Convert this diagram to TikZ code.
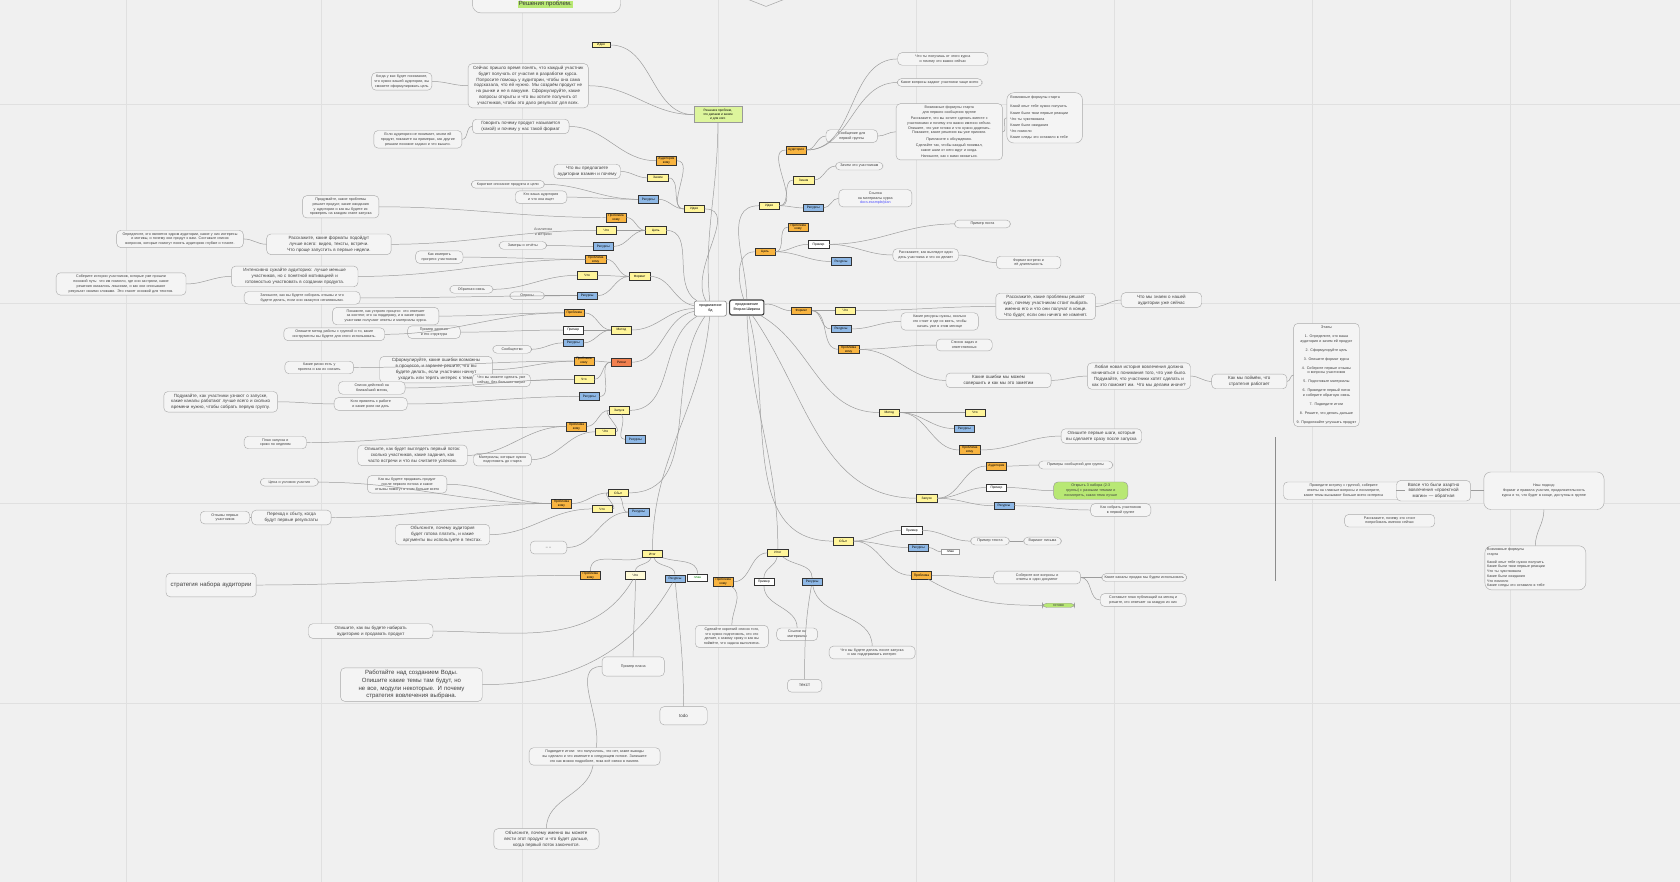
\documentclass[tikz,border=0pt]{standalone}
\usepackage{fontspec}
\setmainfont{Liberation Sans}
\usepackage{tikz}
\usetikzlibrary{positioning}
\definecolor{bgC}{HTML}{F0F0F0}
\definecolor{gridC}{HTML}{E0E0E0}
\definecolor{noteC}{HTML}{F4F4F4}
\definecolor{edgeC}{HTML}{AAAAAA}
\definecolor{linkC}{HTML}{9C9C9C}
\definecolor{tagY}{HTML}{FFF59A}
\definecolor{tagO}{HTML}{F8B440}
\definecolor{tagB}{HTML}{8EB8E6}
\definecolor{tagG}{HTML}{DDF59C}
\definecolor{tagR}{HTML}{F2804F}
\definecolor{hiG}{HTML}{B8E874}
\newdimen\pxu \pxu=0.26786mm
\newcommand\ftiny{\fontsize{2.6}{3.4}\selectfont}
\newcommand\fsmall{\fontsize{3.2}{4.2}\selectfont}
\newcommand\fmid{\fontsize{4.3}{5.5}\selectfont}
\newcommand\fbig{\fontsize{5}{6.6}\selectfont}
\newcommand\ftag{\fontsize{2.3}{2.8}\selectfont}
\tikzset{
  note/.style={draw=edgeC, fill=noteC, rounded corners=3pt, align=center,
               inner sep=1.6pt, text=black!75, font=\ftiny, text width=#1\pxu,
               line width=0.3pt},
  tag/.style={draw=black!80, line width=0.35pt, inner sep=0.6pt,
              minimum width=19\pxu, minimum height=7\pxu, font=\ftag, align=center},
  ytag/.style={tag, fill=tagY},
  otag/.style={tag, fill=tagO},
  btag/.style={tag, fill=tagB},
  wtag/.style={tag, fill=white},
  gtag/.style={tag, fill=tagG, draw=black!40},
  rtag/.style={tag, fill=tagR},
  hub/.style={draw=black!50, fill=white, rounded corners=1.5pt, font=\ftiny,
              align=center, inner sep=1.5pt, minimum height=14\pxu},
  link/.style={draw=linkC, line width=0.35pt},
  gridline/.style={draw=gridC, line width=0.4pt},
}

\begin{document}
\begin{tikzpicture}[x=0.26786mm, y=-0.26786mm]
  \fill[bgC] (0,0) rectangle (1568,823);
  \useasboundingbox (0,0) rectangle (1568,823);
  % grid
  \foreach \gx in {118,300,487,670,855,1040,1225,1410}
    \draw[gridline] (\gx,0) -- (\gx,823);
  \foreach \gy in {97,283,470,656}
    \draw[gridline] (0,\gy) -- (1568,\gy);
  \draw[black!45, line width=0.5pt] (1190,408) -- (1190,542);

  % top
  \node[note=134, minimum height=26\pxu, rounded corners=6pt] (topbox) at (510,-1) {};
  \node[fill=hiG, inner sep=0.6pt, font=\fmid, text=black!80] (topT) at (509,4) {Решения проблем.};
  \draw[edgeC, line width=0.4pt] (692,-3) -- (715,6) -- (738,-3);

  % hubs
  \node[hub, minimum width=30\pxu] (cl) at (663,288) {продвижение\\бд};
  \node[hub, minimum width=32\pxu, draw=black!75, line width=0.8pt] (cr) at (697,287) {продвижение\\Вторая Ширина};

  % left tags
  \node[gtag, minimum width=45\pxu, minimum height=15\pxu] (tG) at (670,107) {Решения проблем,\\что делаем и зачем\\и для кого};
  \node[ytag, minimum width=17\pxu, minimum height=5\pxu] (tS) at (561,42) {Идея};
  \node[otag] (t1) at (622,150) {Аудитория\\кому};
  \node[ytag] (t2) at (614,166) {Зачем};
  \node[btag] (t3) at (605,186) {Ресурсы};
  \node[ytag] (t4) at (648,195) {Идея};
  \node[otag] (t5) at (575,203) {Проблема\\кому};
  \node[ytag] (t6) at (566,215) {Что};
  \node[ytag] (t7) at (612,215) {Цель};
  \node[btag] (t8) at (563,230) {Ресурсы};
  \node[otag] (t9) at (556,242) {Проблема\\кому};
  \node[ytag] (t10) at (548,257) {Что};
  \node[ytag] (t11) at (597,258) {Формат};
  \node[btag] (t12) at (548,276) {Ресурсы};
  \node[otag] (t13) at (536,292) {Проблема};
  \node[wtag] (t14) at (535,308) {Пример};
  \node[ytag] (t15) at (580,308) {Метод};
  \node[btag] (t16) at (535,320) {Ресурсы};
  \node[otag] (t17) at (545,337) {Проблема\\кому};
  \node[rtag] (t18) at (580,338) {Риски};
  \node[ytag] (t19) at (545,354) {Что};
  \node[btag] (t20) at (550,370) {Ресурсы};
  \node[ytag] (t21) at (578,383) {Запуск};
  \node[otag] (t22) at (538,398) {Проблема\\кому};
  \node[ytag] (t23) at (565,403) {Что};
  \node[btag] (t24) at (593,410) {Ресурсы};
  \node[ytag] (t25) at (577,460) {Сбыт};
  \node[otag] (t26) at (524,470) {Проблема\\кому};
  \node[ytag] (t27) at (562,475) {Что};
  \node[btag] (t28) at (596,478) {Ресурсы};
  \node[ytag] (t29) at (609,517) {Итог};
  \node[otag] (t30) at (551,537) {Проблема\\кому};
  \node[ytag, fill=tagY!40] (t31) at (593,537) {Что};
  \node[btag] (t32) at (630,540) {Ресурсы};
  \node[wtag, text=green!50!black] (tW) at (651,539) {план};
  \node[otag] (t33) at (675,543) {Проблема\\кому};

  % right tags
  \node[otag] (r1) at (743,140) {Аудитория};
  \node[ytag] (r2) at (750,168) {Зачем};
  \node[ytag] (r3) at (718,192) {Идея};
  \node[btag] (r4) at (759,194) {Ресурсы};
  \node[otag] (r5) at (745,212) {Проблема\\кому};
  \node[otag] (r6) at (714,235) {Цель};
  \node[wtag] (r7) at (764,228) {Пример};
  \node[btag] (r8) at (785,244) {Ресурсы};
  \node[otag] (r9) at (748,290) {Формат};
  \node[ytag] (r10) at (789,290) {Что};
  \node[btag] (r11) at (785,307) {Ресурсы};
  \node[otag] (r12) at (792,326) {Проблема\\кому};
  \node[ytag] (r13) at (830,385) {Метод};
  \node[ytag] (r14) at (910,385) {Что};
  \node[btag] (r15) at (900,400) {Ресурсы};
  \node[otag] (r16) at (905,420) {Проблема\\кому};
  \node[otag] (r17) at (930,435) {Аудитория};
  \node[ytag] (r18) at (865,465) {Запуск};
  \node[wtag] (r19) at (930,455) {Пример};
  \node[btag] (r20) at (937,472) {Ресурсы};
  \node[ytag] (r21) at (787,505) {Сбыт};
  \node[wtag] (r22) at (851,495) {Пример};
  \node[btag] (r23) at (857,511) {Ресурсы};
  \node[wtag, minimum width=17\pxu, minimum height=5\pxu, draw=black!40] (r24) at (887,515) {план};
  \node[otag] (r25) at (860,537) {Проблема};
  \node[ytag] (r26) at (726,516) {Итог};
  \node[wtag] (r27) at (713,543) {Пример};
  \node[btag] (r28) at (758,543) {Ресурсы};

  % left notes
  \node[note=52] (nA) at (375,76) {Когда у вас будет понимание, что нужно вашей аудитории, вы сможете сформулировать цель};
  \node[note=108, font=\fsmall] (nB) at (493,80) {Сейчас пришло время понять, что каждый участник будет получать от участия в разработке курса. Попросите помощь у аудитории, чтобы она сама подсказала, что ей нужно. Мы создаём продукт не на рынке и не в вакууме. Сформулируйте, какие вопросы открыты и что вы хотите получить от участников, чтобы это дало результат для всех.};
  \node[note=86, font=\fsmall] (nC) at (486,118) {Говорить почему продукт называется (какой) и почему у нас такой формат};
  \node[note=78] (nD) at (390,130) {Если аудитория не понимает, зачем ей продукт, покажите на примерах, как другие решали похожие задачи и что вышло.};
  \node[note=58, font=\fsmall] (nE) at (548,160) {Что вы предлагаете аудитории взамен и почему};
  \node[note=64] (nF) at (474,172) {Короткое описание продукта и цели};
  \node[note=44] (nG) at (505,184) {Кто ваша аудитория и что она ищет};
  \node[note=67] (nH) at (318,193) {Продумайте, какие проблемы решает продукт, какие ожидания у аудитории и как вы будете их проверять на каждом этапе запуска};
  \node[note=114] (nI) at (168,223) {Определите, кто является ядром аудитории, какие у них интересы и мотивы, и почему они придут к вам. Составьте список вопросов, которые помогут понять аудиторию глубже и точнее.};
  \node[note=112, font=\fsmall] (nJ) at (307,228) {Расскажите, какие форматы подойдут лучше всего: видео, тексты, встречи. Что проще запустить в первые недели.};
  \node[text=black!65, align=center, font=\ftiny] (txtA) at (507,217) {Аналитика\\и метрики};
  \node[note=40] (nK) at (488,229) {Замеры и отчёты};
  \node[note=40] (nL) at (410,240) {Как измерять прогресс участников};
  \node[note=114, font=\fsmall] (nM) at (275,258) {Интенсивно сужайте аудиторию: лучше меньше участников, но с понятной мотивацией и готовностью участвовать в создании продукта.};
  \node[note=117] (nN) at (113,265) {Соберите истории участников, которые уже прошли похожий путь: что им помогло, где они застряли, какие решения оказались лишними, и как они описывают результат своими словами. Это станет основой для текстов.};
  \node[note=36] (nO) at (440,270) {Обратная связь};
  \node[note=28] (nP) at (492,276) {Опросы};
  \node[note=104] (nQ) at (282,278) {Запишите, как вы будете собирать отзывы и что будете делать, если они окажутся негативными.};
  \node[note=95] (nR) at (360,295) {Покажите, как устроен процесс: кто отвечает за контент, кто за поддержку, и в какие сроки участники получают ответы и материалы курса.};
  \node[note=90] (nS) at (312,312) {Опишите метод работы с группой и то, какие инструменты вы будете для этого использовать.};
  \node[note=45] (nT) at (405,310) {Пример занятия и его структура};
  \node[note=32] (nU) at (478,326) {Сообщество};
  \node[note=60] (nV) at (298,343) {Какие риски есть у проекта и как их снизить};
  \node[note=101, font=\fsmall] (nW) at (407,345) {Сформулируйте, какие ошибки возможны в процессе, и заранее решите, что вы будете делать, если участники начнут уходить или терять интерес к теме.};
  \node[note=50] (nX) at (468,355) {Что вы можете сделать уже сейчас, без больших затрат};
  \node[note=58] (nY) at (347,362) {Список действий на ближайший месяц};
  \node[note=64] (nZ) at (346,377) {Кого привлечь к работе и какие роли им дать};
  \node[note=102, font=\fsmall] (nAA) at (206,375) {Подумайте, как участники узнают о запуске, какие каналы работают лучше всего и сколько времени нужно, чтобы собрать первую группу.};
  \node[note=54] (nAB) at (257,413) {План запуска и сроки по неделям};
  \node[note=98, font=\fsmall] (nAC) at (385,425) {Опишите, как будет выглядеть первый поток: сколько участников, какие задания, как часто встречи и что вы считаете успехом.};
  \node[note=50] (nAD) at (469,429) {Материалы, которые нужно подготовить до старта};
  \node[note=50] (nAE) at (270,450) {Цена и условия участия};
  \node[note=70] (nAF) at (380,452) {Как вы будете продавать продукт после первого потока и какие отзывы помогут в этом больше всего};
  \node[note=42] (nAG) at (210,483) {Отзывы первых участников};
  \node[note=70, font=\fsmall] (nAH) at (272,483) {Переход к сбыту, когда будут первые результаты};
  \node[note=84, font=\fsmall] (nAI) at (413,499) {Объясните, почему аудитория будет готова платить, и какие аргументы вы используете в текстах.};
  \node[note=30, minimum height=12\pxu] (nAJ) at (512,511) {-- --};
  \node[note=80, font=\fmid, minimum height=22\pxu] (nAK) at (197,546) {стратегия набора аудитории};
  \node[note=112, font=\fsmall] (nAL) at (346,589) {Опишите, как вы будете набирать аудиторию и продавать продукт};
  \node[note=54, minimum height=18\pxu] (nAM) at (591,622) {Пример плана};
  \node[note=64] (nAN) at (683,594) {Сделайте короткий список того, что нужно подготовить, кто это делает, к какому сроку и как вы поймёте, что задача выполнена.};
  \node[note=34] (nAO) at (744,592) {Ссылки на материалы};
  \node[note=128, font=\fmid] (nAP) at (384,639) {Работайте над созданием Воды. Опишите какие темы там будут, но не все, модули некоторые. И почему стратегия вовлечения выбрана.};
  \node[note=40, font=\fsmall, minimum height=17\pxu] (nAQ) at (638,668) {todo};
  \node[note=28, font=\fsmall, minimum height=12\pxu] (nAR) at (751,640) {текст};
  \node[note=76] (nAS) at (814,609) {Что вы будете делать после запуска и как поддерживать интерес};
  \node[note=118] (nAT) at (555,706) {Подведите итоги: что получилось, что нет, какие выводы вы сделали и что измените в следующем потоке. Запишите это как можно подробнее, пока всё свежо в памяти.};
  \node[note=94, font=\fsmall] (nAU) at (510,783) {Объясните, почему именно вы можете вести этот продукт и что будет дальше, когда первый поток закончится.};

  % right notes
  \node[note=80] (nBA) at (880,55) {Что ты получишь от этого курса и почему это важно сейчас};
  \node[note=75] (nBB) at (877,77) {Какие вопросы задают участники чаще всего};
  \node[note=95, align=center] (nBC) at (886,123) {Возможные формулы старта\\для первого сообщения группе\\[1pt] Расскажите, что вы хотите сделать вместе с участниками и почему это важно именно сейчас. Опишите, что уже готово и что нужно доделать. Покажите, какие решения вы уже приняли.\\[1pt] Пригласите к обсуждению.\\[1pt] Сделайте так, чтобы каждый понимал, какие шаги от него ждут и когда.\\[1pt] Напишите, как с вами связаться.};
  \node[note=64, align=left, rounded corners=5pt, inner sep=2.5pt] (nBD) at (975,110) {Возможные формулы старта\\[3pt] Какой опыт тебе нужно получить\\[1pt] Какие были твои первые реакции\\[1pt] Что ты чувствовала\\[1pt] Какие были ожидания\\[1pt] Что помогло\\[1pt] Какие следы это оставило в тебе};
  \node[note=44] (nBE) at (795,127) {Сообщение для первой группы};
  \node[note=40] (nBF) at (802,155) {Зачем это участникам};
  \node[note=64] (nBG) at (817,185) {Ссылка\\на материалы курса\\\textcolor{blue!70}{docs.example/plan}};
  \node[note=48] (nBH) at (917,209) {Пример поста};
  \node[note=57] (nBI) at (864,238) {Расскажите, как выглядит один день участника и что он делает};
  \node[note=56] (nBJ) at (960,245) {Формат встречи и её длительность};
  \node[note=89, font=\fsmall] (nBK) at (976,286) {Расскажите, какие проблемы решает курс, почему участникам стоит выбрать именно его и что они получат в конце. Что будет, если они ничего не изменят.};
  \node[note=71, font=\fsmall] (nBL) at (1084,280) {Что мы знаем о нашей аудитории уже сейчас};
  \node[note=68] (nBM) at (877,300) {Какие ресурсы нужны, сколько это стоит и где их взять, чтобы начать уже в этом месяце};
  \node[note=48] (nBN) at (900,322) {Список задач и ответственных};
  \node[note=94, font=\fsmall] (nBO) at (932,355) {Какие ошибки мы можем совершить и как мы это заметим};
  \node[note=92, font=\fsmall] (nBP) at (1063,351) {Любая новая история вовлечения должна начинаться с понимания того, что уже было. Подумайте, что участники хотят сделать и как это поможет им. Что мы делаем иначе?};
  \node[note=66, font=\fsmall] (nBQ) at (1166,356) {Как мы поймём, что стратегия работает};
  \node[note=57] (nBR) at (1238,350) {Этапы\\[3pt] 1. Определите, кто ваша аудитория и зачем ей продукт\\[3pt] 2. Сформулируйте цель\\[3pt] 3. Опишите формат курса\\[3pt] 4. Соберите первые отзывы и вопросы участников\\[3pt] 5. Подготовьте материалы\\[3pt] 6. Проведите первый поток и соберите обратную связь\\[3pt] 7. Подведите итоги\\[3pt] 8. Решите, что делать дальше\\[3pt] 9. Продолжайте улучшать продукт};
  \node[note=71, font=\fsmall] (nBS) at (1028,407) {Опишите первые шаги, которые вы сделаете сразу после запуска};
  \node[note=65] (nBT) at (1004,434) {Примеры сообщений для группы};
  \node[note=65, fill=hiG, draw=black!40] (nBU) at (1018,458) {Открыть 3 набора (2-3 группы) с разными темами и посмотреть, какая тема лучше};
  \node[note=52] (nBV) at (1046,476) {Как собрать участников в первой группе};
  \node[note=32] (nBW) at (924,505) {Пример текста};
  \node[note=31] (nBX) at (973,505) {Вариант письма};
  \node[note=77] (nBY) at (968,539) {Соберите все вопросы и ответы в один документ};
  \node[note=75] (nBZ) at (1068,539) {Какие каналы продаж мы будем использовать};
  \node[note=76] (nCA) at (1067,560) {Составьте план публикаций на месяц и решите, кто отвечает за каждую из них};
  \node[note=28, fill=hiG, draw=black!40, inner sep=0.8pt] (nCB) at (988,565) {готово};
  \node[note=108] (nCC) at (1254,458) {Проведите встречу с группой, соберите ответы на главные вопросы и посмотрите, какие темы вызывают больше всего интереса};
  \node[note=65, font=\fsmall] (nCD) at (1338,458) {Вовсе что были азартно вовлечения «проектной магии» — обратная};
  \node[note=108, font=\ftiny, rounded corners=5pt, minimum height=35\pxu] (nCE) at (1441,458) {Наш подход:\\ Формат и правила участия, продолжительность курса и то, что будет в конце, доступны в группе};
  \node[note=80] (nCF) at (1297,486) {Расскажите, почему это стоит попробовать именно сейчас};
  \node[note=90, align=left, rounded corners=5pt] (nCG) at (1433,530) {Возможные формулы\\старта\\[2pt] Какой опыт тебе нужно получить\\ Какие были твои первые реакции\\ Что ты чувствовала\\ Какие были ожидания\\ Что помогло\\ Какие следы это оставило в тебе};

  % hub connectors
  \draw[link] (cl) to[out=95,in=-90] (tG);
  \draw[link] (cl) to[out=-95,in=90] (t29);
  \draw[link] (cr) to[out=-88,in=90] (r26);
  \foreach \t/\o in {t4/120,t7/150,t11/170,t15/180,t18/190,t21/210,t25/235}
    \draw[link] (cl) to[out=\o,in=0] (\t);
  \foreach \t/\o in {r3/90,r6/110,r9/10,r13/-30,r18/-55,r21/-75}
    \draw[link] (cr) to[out=\o,in=180] (\t);

  % level 1 to level 2
  \foreach \p/\c in {t4/t1,t4/t2,t4/t3,t7/t5,t7/t6,t7/t8,t11/t9,t11/t10,t11/t12,
                     t15/t13,t15/t14,t15/t16,t18/t17,t18/t19,t18/t20,t21/t22,t21/t23,
                     t25/t26,t25/t27}
    \draw[link] (\p) to[out=180,in=0] (\c);
  \foreach \p/\c in {t21/t24,t25/t28}
    \draw[link] (\p) to[out=-60,in=180] (\c);
  \foreach \c/\o in {t30/-160,t31/-110,t32/-70,tW/-20}
    \draw[link] (t29) to[out=\o,in=90] (\c);
  \foreach \p/\c in {r3/r1,r3/r2,r3/r4,r6/r5,r6/r7,r6/r8,r9/r10,r9/r11,r9/r12,
                     r13/r14,r13/r15,r13/r16,r18/r17,r18/r19,r18/r20,r21/r22,r21/r23,r21/r25,r23/r24}
    \draw[link] (\p) to[out=0,in=180] (\c);
  \draw[link] (r26) to[out=180,in=0] (t33);
  \draw[link] (r26) to[out=-100,in=90] (r27);
  \draw[link] (r26) to[out=-40,in=90] (r28);

  % notes, left side
  \draw[link] (tS) to[out=0,in=180] (tG);
  \foreach \a/\b in {nB/tG,nA/nB,nD/nC,nI/nJ,nN/nM,nAA/nZ,nAG/nAH}
    \draw[link] (\a) to[out=0,in=180] (\b);
  \foreach \a/\b in {t1/nC,t2/nE,t3/nF,t3/nG,t5/nH,t6/nJ,t8/nK,t9/nL,t9/nM,t10/nO,
                     t12/nP,t12/nQ,t13/nR,t13/nS,t14/nT,t16/nU,t17/nW,t17/nV,t19/nX,
                     t19/nY,t20/nZ,t22/nAB,t22/nAC,t23/nAD,t26/nAE,t26/nAF,t26/nAH,
                     t27/nAI,t28/nAJ,t30/nAK}
    \draw[link] (\a) to[out=180,in=0] (\b);
  \draw[link] (t31) to[out=-120,in=0] (nAL);
  \draw[link] (t32) to[out=-120,in=0] (nAP);
  \draw[link] (t31) to[out=-90,in=90] (nAM);
  \draw[link] (t32) to[out=-85,in=90] (nAQ);
  \draw[link] (nAM) to[out=180,in=80] (nAT);
  \draw[link] (nAT) to[out=-100,in=90] (nAU);
  \draw[link] (t33) to[out=-30,in=90] (nAN);
  \draw[link] (r27) to[out=-90,in=90] (nAO);
  \draw[link] (r28) to[out=-100,in=90] (nAR);
  \draw[link] (r28) to[out=-80,in=90] (nAS);

  % notes, right side
  \foreach \a/\b in {r1/nBA,r1/nBB,r1/nBE,nBE/nBC,nBC/nBD,r2/nBF,r4/nBG,r7/nBH,r7/nBI,
                     nBI/nBJ,r10/nBK,nBK/nBL,r11/nBM,r12/nBN,r12/nBO,nBO/nBP,nBP/nBQ,
                     nBQ/nBR,r16/nBS,r17/nBT,r19/nBU,r20/nBV,r22/nBW,nBW/nBX,r25/nBY,
                     nBY/nBZ,nBY/nCA,nCC/nCD,nCD/nCE}
    \draw[link] (\a) to[out=0,in=180] (\b);
  \draw[link] (r25) to[out=-30,in=180] (nCB);
  \draw[link] (nCE) to[out=-90,in=90] (nCG);
\end{tikzpicture}
\end{document}
